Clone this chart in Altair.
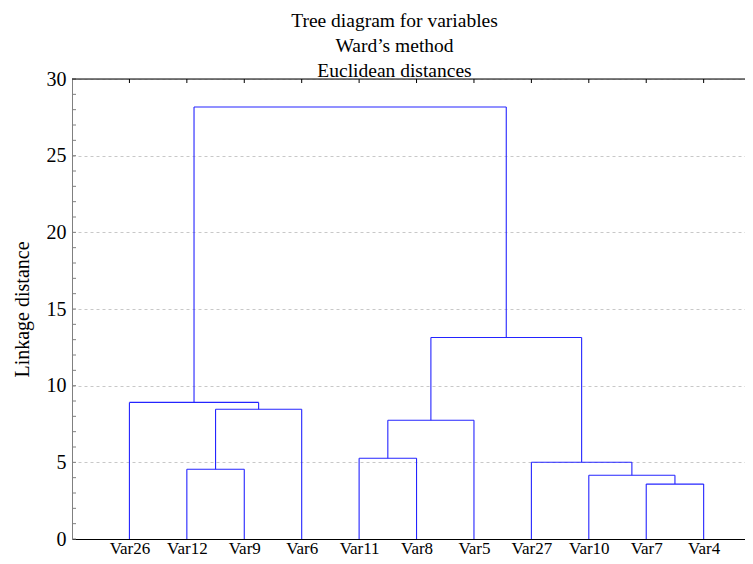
import json
import altair as alt
import pandas as pd

# ---- data ----
leaves = ["Var26", "Var12", "Var9", "Var6", "Var11", "Var8", "Var5",
          "Var27", "Var10", "Var7", "Var4"]
merge_left = ["Var12", "C1", "Var26", "Var11", "C4", "Var7", "Var10", "Var27", "C5", "C3"]
merge_right = ["Var9", "Var6", "C2", "Var8", "Var5", "Var4", "C6", "C7", "C8", "C9"]
merge_height = [4.55, 8.46, 8.91, 5.27, 7.74, 3.58, 4.16, 5.01, 13.14, 28.17]

y_major = [0, 5, 10, 15, 20, 25, 30]
y_minor = list(range(0, 31))

title_lines = ["Tree diagram for variables", "Ward\u2019s method", "Euclidean distances"]
y_title = "Linkage distance"

# ---- build dendrogram segments ----
pos = {name: i + 1 for i, name in enumerate(leaves)}
hgt = {name: 0.0 for name in leaves}
rows = []
for k, (a, b, h) in enumerate(zip(merge_left, merge_right, merge_height)):
    xa, xb = pos[a], pos[b]
    rows.append({"x": xa, "x2": xa, "y": hgt[a], "y2": h})
    rows.append({"x": xb, "x2": xb, "y": hgt[b], "y2": h})
    rows.append({"x": xa, "x2": xb, "y": h, "y2": h})
    cname = f"C{k + 1}"
    pos[cname] = (xa + xb) / 2
    hgt[cname] = h
segs = pd.DataFrame(rows)

FONT = "Liberation Serif"
W, H = 673, 460
XMAX = 11.72

xscale = alt.Scale(domain=[0, XMAX], nice=False, zero=False)
yscale = alt.Scale(domain=[0, 30], nice=False)

label_expr = json.dumps(leaves) + "[datum.value - 1]"

dendro = alt.Chart(segs).mark_rule(color="#2424ff", strokeWidth=1.1).encode(
    x=alt.X("x:Q", scale=xscale,
            axis=alt.Axis(values=list(range(1, len(leaves) + 1)), labelExpr=label_expr,
                          title="", grid=False, ticks=False, tickSize=0,
                          domainColor="#000000", domainWidth=1.2,
                          labelFont=FONT, labelFontSize=17, labelColor="#000000",
                          labelBaseline="alphabetic", labelPadding=14, labelFlush=False)),
    x2="x2:Q",
    y=alt.Y("y:Q", scale=yscale,
            axis=alt.Axis(values=y_major, title=y_title, grid=True,
                          gridColor="#c8c8c8", gridDash=[3, 3], gridWidth=1,
                          ticks=False, tickSize=0, domainColor="#808080",
                          labelFont=FONT, labelFontSize=20, labelColor="#000000",
                          labelPadding=6, titleFont=FONT, titleFontSize=20,
                          titleFontWeight="normal", titleColor="#000000",
                          titlePadding=14)),
    y2="y2:Q",
)

minor = alt.Chart(pd.DataFrame({"v": y_minor})).mark_rule(color="#808080", strokeWidth=1).encode(
    y=alt.Y("v:Q", scale=yscale),
    x=alt.value(0), x2=alt.value(4),
)

top_ticks = alt.Chart(pd.DataFrame({"p": list(range(1, len(leaves) + 1))})).mark_rule(
    color="#000000", strokeWidth=1).encode(
    x=alt.X("p:Q", scale=xscale),
    y=alt.value(0), y2=alt.value(4),
)

top_line = alt.Chart(pd.DataFrame({"p": [0]})).mark_rule(color="#000000", strokeWidth=1.2).encode(
    x=alt.value(0), x2=alt.value(W), y=alt.value(0),
)

chart = alt.layer(dendro, minor, top_ticks, top_line).properties(
    width=W, height=H,
    autosize=alt.AutoSizeParams(type="none"),
    padding={"left": 64, "top": 71, "right": 0, "bottom": 17},
    title=alt.TitleParams(text=title_lines, font=FONT, fontSize=19.5, fontWeight="normal",
                          color="#000000", lineHeight=25, anchor="middle", offset=-12, dx=-14),
).configure_view(stroke=None).configure(background="#ffffff")

chart.save("out.html", embed_options={"renderer": "svg", "actions": False})
